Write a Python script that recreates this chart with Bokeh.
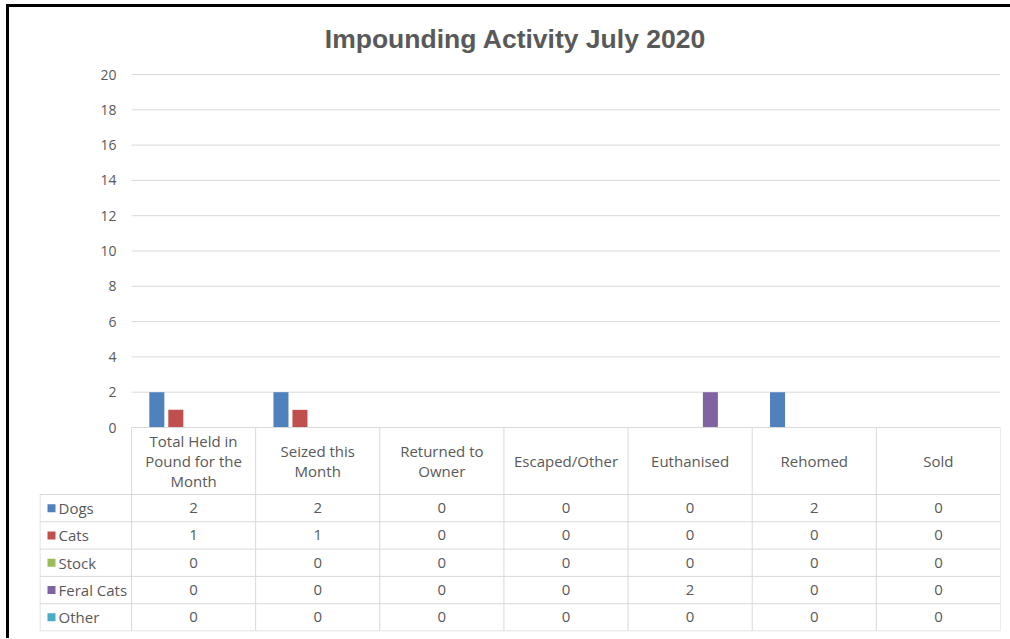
from bokeh.plotting import figure
from bokeh.models import Range1d, FixedTicker, ColumnDataSource
from bokeh.core.properties import value
from bokeh.transform import dodge
from bokeh.embed import file_html
from bokeh.resources import INLINE

# ---------------- data ----------------
title_text = "Impounding Activity July 2020"
categories = ["Total Held in\nPound for the\nMonth", "Seized this\nMonth", "Returned to\nOwner",
              "Escaped/Other", "Euthanised", "Rehomed", "Sold"]
series = ["Dogs", "Cats", "Stock", "Feral Cats", "Other"]
dogs = [2, 2, 0, 0, 0, 2, 0]
cats = [1, 1, 0, 0, 0, 0, 0]
stock = [0, 0, 0, 0, 0, 0, 0]
feral_cats = [0, 0, 0, 0, 2, 0, 0]
other = [0, 0, 0, 0, 0, 0, 0]
colors = ["#4F81BD", "#C0504D", "#9BBB59", "#8064A2", "#4BACC6"]
y_ticks = [0, 2, 4, 6, 8, 10, 12, 14, 16, 18, 20]

values = [dogs, cats, stock, feral_cats, other]
n = len(categories)
TXT = "#595959"
GRID = "#D9D9D9"
FONT = "Open Sans"

# ---------------- layout constants (page pixels) ----------------
W, H = 1004, 634
ox, oy = 9, 7                   # canvas origin on the page (after margin + border)
leg_left_px, cat_left_px, cat_right_px = 39, 131, 1000
frame_top_px, zero_px, top_px, bottom_px = 8, 427, 74, 631
title_x_px, title_y_px = 515, 38
px_per_cat = (cat_right_px - cat_left_px) / n
px_per_val = (zero_px - top_px) / 20.0
header_h = 67
row_h = 27.3
bar_step = 0.153
bar_w = 0.121

x_start = -(cat_left_px - leg_left_px) / px_per_cat
y_start = -(bottom_px - zero_px) / px_per_val
y_end = 20 + (top_px - frame_top_px) / px_per_val

p = figure(width=W, height=H, x_range=Range1d(x_start, n), y_range=Range1d(y_start, y_end),
           output_backend="svg", toolbar_location=None, x_axis_location=None,
           min_border_left=leg_left_px - ox, min_border_right=ox + W - cat_right_px,
           min_border_top=frame_top_px - oy, min_border_bottom=oy + H - bottom_px)
p.extra_y_ranges = {"tbl": Range1d(bottom_px - zero_px, frame_top_px - zero_px)}
p.outline_line_color = None
p.grid.visible = False
p.margin = (4, 0, 0, 6)
p.styles = {"border-left": "3px solid #000000", "border-top": "3px solid #000000"}

# y axis (labels sit left of the category area)
p.yaxis.ticker = FixedTicker(ticks=y_ticks)
p.yaxis.axis_line_color = None
p.yaxis.major_tick_line_color = None
p.yaxis.minor_tick_line_color = None
p.yaxis.major_tick_in = 0
p.yaxis.major_tick_out = 0
p.yaxis.major_label_standoff = -(116 - leg_left_px)
p.yaxis.major_label_text_font = FONT
p.yaxis.major_label_text_font_size = "14px"
p.yaxis.major_label_text_color = TXT

# title
p.text(x=[(title_x_px - cat_left_px) / px_per_cat], y=[title_y_px - zero_px], text=[title_text],
       text_align="center", text_baseline="middle", text_font=value("Liberation Sans"),
       text_font_style="bold", text_font_size="26.5px", text_color=TXT, y_range_name="tbl")

# horizontal gridlines over the category area
gl = [t for t in y_ticks if t > 0]
p.segment(x0=[0] * len(gl), x1=[n] * len(gl), y0=gl, y1=gl, line_color=GRID, line_width=1)

# bars
xs = [i + 0.5 for i in range(n)]
src = ColumnDataSource(dict(x=xs, **{s: v for s, v in zip(series, values)}))
for j, (s, c) in enumerate(zip(series, colors)):
    p.vbar(x=dodge("x", (j - 2) * bar_step + 0.01), top=s, width=bar_w, bottom=0,
           source=src, fill_color=c, line_color=None)

# ---------------- data table ----------------
leg_left = x_start
bottom = header_h + len(series) * row_h
sx0, sx1, sy0, sy1 = [0], [n], [0], [0]
for k in range(len(series) + 1):
    y = header_h + k * row_h
    sx0.append(leg_left); sx1.append(n); sy0.append(y); sy1.append(y)
for i in range(n + 1):
    sx0.append(i); sx1.append(i); sy0.append(0); sy1.append(bottom)
sx0.append(leg_left + 0.004); sx1.append(leg_left + 0.004); sy0.append(header_h); sy1.append(bottom)
p.segment(x0=sx0, y0=sy0, x1=sx1, y1=sy1, line_color=GRID, line_width=1, y_range_name="tbl")

p.text(x=xs, y=[header_h / 2] * n, text=categories, text_align="center",
       text_baseline="middle", text_font=value(FONT), text_font_size="15px",
       text_color=TXT, text_line_height=1.02, y_range_name="tbl")

key_x = -(cat_left_px - 51) / px_per_cat
lab_x = -(cat_left_px - 58) / px_per_cat
for k, (s, c, v) in enumerate(zip(series, colors, values)):
    yc = header_h + (k + 0.5) * row_h
    p.text(x=xs, y=[yc] * n, text=[str(a) for a in v], text_align="center",
           text_baseline="middle", text_font=value(FONT), text_font_size="15px",
           text_color=TXT, y_range_name="tbl")
    p.scatter(x=[key_x], y=[yc], marker="square", size=8,
              fill_color=c, line_color=None, y_range_name="tbl")
    p.text(x=[lab_x], y=[yc], text=[s], text_align="left",
           text_baseline="middle", text_font=value(FONT), text_font_size="15px",
           text_color=TXT, y_range_name="tbl")

open("out.html", "w").write(file_html(p, INLINE))
